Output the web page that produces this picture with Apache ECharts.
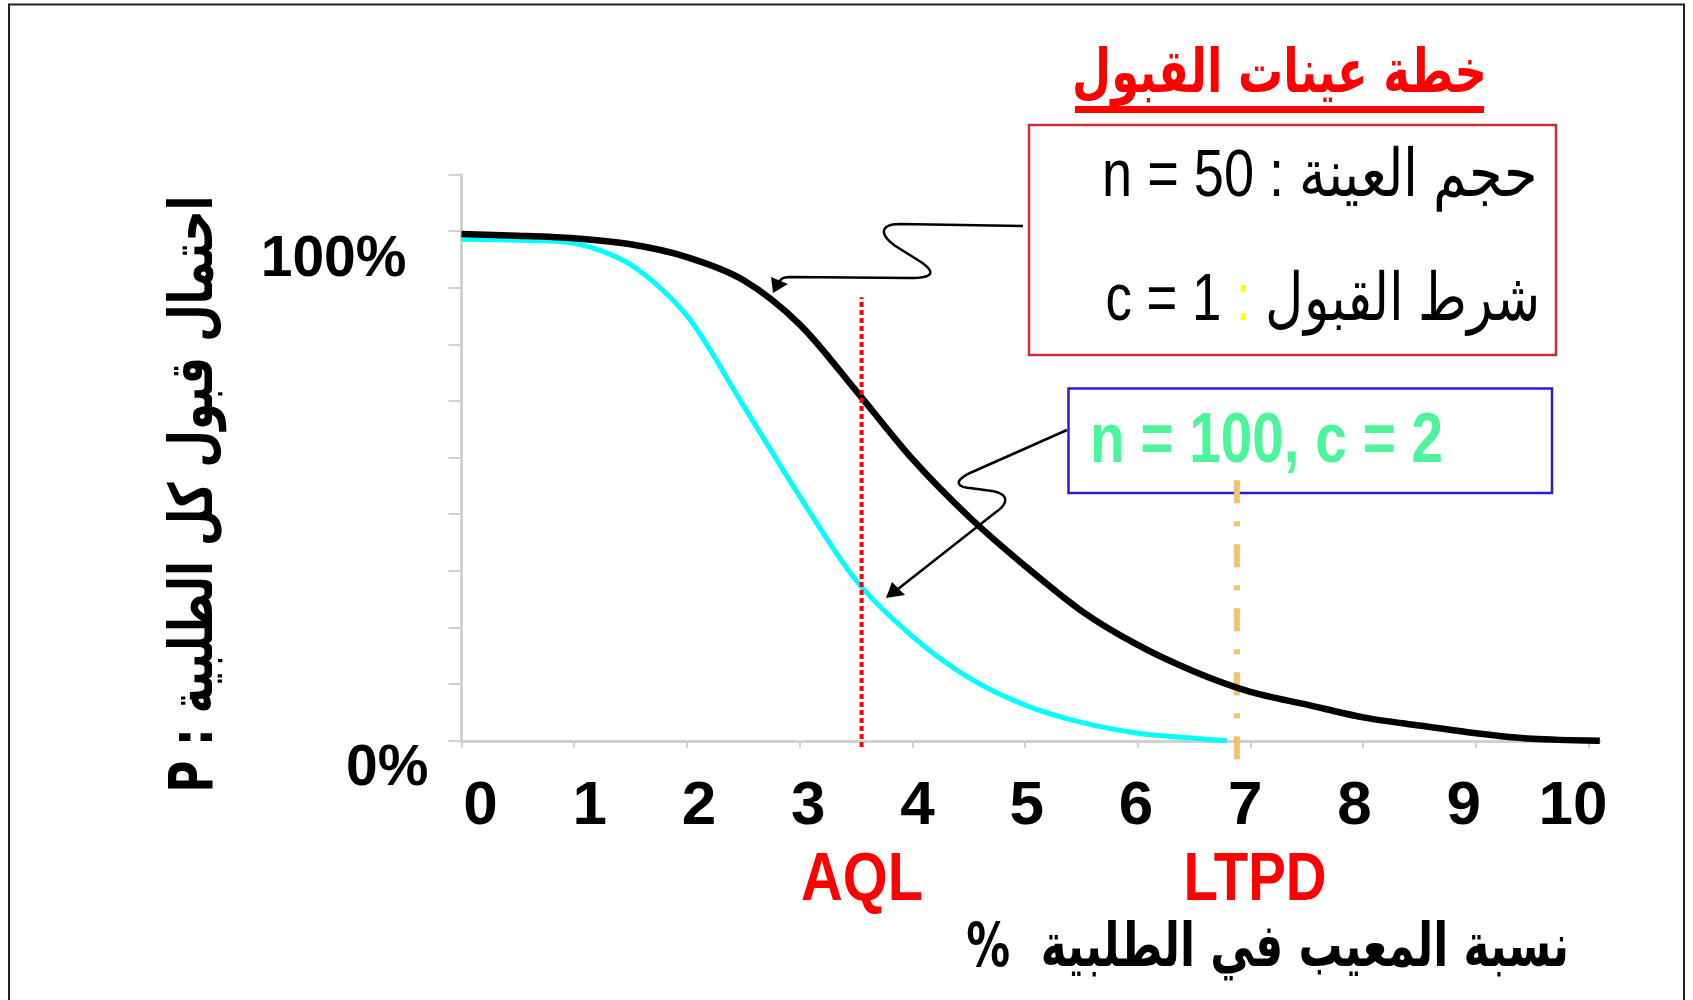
<!DOCTYPE html>
<html dir="ltr">
<head>
<meta charset="utf-8">
<script src="https://cdn.jsdelivr.net/npm/echarts@6/dist/echarts.min.js"></script>
<style>html,body{margin:0;padding:0;background:#fff}#c{width:1693px;height:1000px}</style>
</head>
<body>
<div id="c"></div>
<script>
// ---- data (x = % defective, y = Pa %) ----
const curveN50C1 = [[0,99.4],[0.5,99.1],[1,98.6],[1.5,97.4],[2,94.9],[2.5,90.4],[3,81.7],[3.5,68.7],[4,55.3],[4.5,44.0],[5,34.3],[5.5,25.5],[6,18.8],[6.5,13.6],[7,9.6],[7.5,7.1],[8,4.6],[8.5,3.0],[9,1.5],[9.5,0.4],[10.1,0]];
const curveN100C2 = [[0,98.4],[0.5,98.2],[1,97.6],[1.5,93.4],[2,83.4],[2.5,65.8],[3,48.0],[3.5,31.5],[4,20.5],[4.5,12.4],[5,7.0],[5.5,3.6],[6,1.5],[6.5,0.5],[6.79,0]];
const xTickValues = [0,1,2,3,4,5,6,7,8,9,10];
const yTickValues = [0,1,2,3,4,5,6,7,8,9,10].map(k => k*100/9);
const yLabelValues = [0,100];
const aqlLine = [[3.55,-1.2],[3.55,87]];
const ltpdLine = [[6.88,-3.6],[6.88,51.7]];

const LAT = "'Liberation Sans',Arial,sans-serif";
const ARAB = "'DejaVu Sans','Liberation Sans',sans-serif";

function bez(p0,p1,p2,p3,n){const out=[];for(let i=0;i<=n;i++){const t=i/n,u=1-t;out.push([u*u*u*p0[0]+3*u*u*t*p1[0]+3*u*t*t*p2[0]+t*t*t*p3[0],u*u*u*p0[1]+3*u*u*t*p1[1]+3*u*t*t*p2[1]+t*t*t*p3[1]]);}return out;}

const conn1 = [[1023,226],[900,224]]
  .concat(bez([900,224],[878,224],[880,236],[897,247],16))
  .concat([[921,262]])
  .concat(bez([921,262],[937,273],[932,278],[910,278],16))
  .concat([[790,277]])
  .concat(bez([790,277],[783,277],[780,279],[779,283],6));
const conn2 = [[1067,430],[970,473]]
  .concat(bez([970,473],[955,480],[955,487],[970,488],16))
  .concat([[992,491]])
  .concat(bez([992,491],[1010,494],[1008,504],[996,512],16))
  .concat([[898,589]]);

const chart = echarts.init(document.getElementById('c'));
chart.setOption({
  animation:false,
  backgroundColor:'#fff',
  grid:{left:461.5,right:93.2,top:174.4,bottom:259.2,containLabel:false},
  xAxis:[{
    type:'value',min:0,max:10.1,
    axisLine:{show:true,lineStyle:{color:'#d0d0d0',width:3}},
    axisTick:{show:true,customValues:xTickValues,length:7,lineStyle:{color:'#d0d0d0',width:2}},
    axisLabel:{show:false},splitLine:{show:false}
  },{
    type:'value',min:-0.174,max:10.245,position:'bottom',
    axisLine:{show:false},axisTick:{show:false},splitLine:{show:false},
    axisLabel:{show:true,customValues:xTickValues,margin:35,verticalAlign:'top',lineHeight:62,
      fontFamily:LAT,fontWeight:'bold',fontSize:62,color:'#000',formatter:v=>String(Math.round(v))}
  }],
  yAxis:{
    type:'value',min:0,max:1000/9,
    axisLine:{show:true,lineStyle:{color:'#d0d0d0',width:3}},
    axisTick:{show:true,customValues:yTickValues,length:13,lineStyle:{color:'#d0d0d0',width:2}},
    splitLine:{show:false},
    axisLabel:{show:true,customValues:yLabelValues,margin:33,verticalAlign:'top',
      formatter:v=>Math.round(v)===100?'{a|100%}':'{b|0%}',
      rich:{
        a:{fontFamily:LAT,fontWeight:'bold',fontSize:57,lineHeight:58,color:'#000',padding:[0,22,0,0]},
        b:{fontFamily:LAT,fontWeight:'bold',fontSize:57,lineHeight:56,color:'#000'}
      }}
  },
  series:[
    {type:'line',name:'n=50,c=1',data:curveN50C1,smooth:0.3,showSymbol:false,symbol:'none',
      lineStyle:{color:'#000',width:6.5},z:3},
    {type:'line',name:'n=100,c=2',data:curveN100C2,smooth:0.3,showSymbol:false,symbol:'none',
      lineStyle:{color:'#00ffff',width:5},z:2},
    {type:'line',name:'AQL',data:aqlLine,showSymbol:false,symbol:'none',clip:false,
      lineStyle:{color:'#ff0000',width:4,type:[5,3]},z:4},
    {type:'line',name:'LTPD',data:ltpdLine,showSymbol:false,symbol:'none',clip:false,
      lineStyle:{color:'#f5c16c',width:6,type:[23,18,5,18]},z:1}
  ],
  graphic:[
    {type:'rect',shape:{x:9,y:4.5,width:1675,height:1100},style:{fill:'none',stroke:'#222',lineWidth:2}},
    {type:'text',x:1279.5,y:76,scaleX:0.75,style:{text:'خطة عينات القبول',font:"bold 60px "+ARAB,fill:'#ff0000',align:'center',verticalAlign:'middle'}},
    {type:'rect',shape:{x:1075,y:106,width:409,height:7},style:{fill:'#ff0000'}},
    {type:'rect',shape:{x:1029,y:125,width:527,height:230},style:{fill:'none',stroke:'#d42a33',lineWidth:2.5}},
    {type:'text',x:1538,y:178,scaleX:0.82,style:{text:'n = 50 : حجم العينة',font:"66px "+LAT,fill:'#000',align:'right',verticalAlign:'middle'}},
    {type:'text',x:1540,y:302,scaleX:0.8,style:{text:'{t|c = 1 }{y|:}{t| شرط القبول}',align:'right',verticalAlign:'middle',
      rich:{t:{fontFamily:LAT,fontSize:66,fill:'#000',color:'#000'},y:{fontFamily:LAT,fontSize:66,fill:'#ffff00',color:'#ffff00'}}}},
    {type:'rect',shape:{x:1068.5,y:388.5,width:483.5,height:104.5},style:{fill:'none',stroke:'#2d1ad6',lineWidth:2.5}},
    {type:'text',x:1090,y:443,scaleX:0.81,style:{text:'n = 100, c = 2',font:"bold 70px "+LAT,fill:'#4cf59a',align:'left',verticalAlign:'middle'}},
    {type:'polyline',shape:{points:conn1},style:{fill:'none',stroke:'#000',lineWidth:2.5}},
    {type:'polygon',shape:{points:[[773,293],[771,277],[788,284]]},style:{fill:'#000'}},
    {type:'polyline',shape:{points:conn2},style:{fill:'none',stroke:'#000',lineWidth:2.5}},
    {type:'polygon',shape:{points:[[886,598],[892,582],[905,595]]},style:{fill:'#000'}},
    {type:'text',x:862,y:881,scaleX:0.85,style:{text:'AQL',font:"bold 68px "+LAT,fill:'#ff0000',align:'center',verticalAlign:'middle'}},
    {type:'text',x:1255,y:881,scaleX:0.83,style:{text:'LTPD',font:"bold 68px "+LAT,fill:'#ff0000',align:'center',verticalAlign:'middle'}},
    {type:'text',x:1569,y:950,scaleX:0.73,style:{text:'%  نسبة المعيب في الطلبية',font:"bold 60px "+ARAB,fill:'#000',align:'right',verticalAlign:'middle'}},
    {type:'text',x:196,y:494,rotation:Math.PI/2,scaleX:0.72,style:{text:'P : احتمال قبول كل الطلبية',font:"bold 60px "+ARAB,fill:'#000',align:'center',verticalAlign:'middle'}}
  ]
});
</script>
</body>
</html>
